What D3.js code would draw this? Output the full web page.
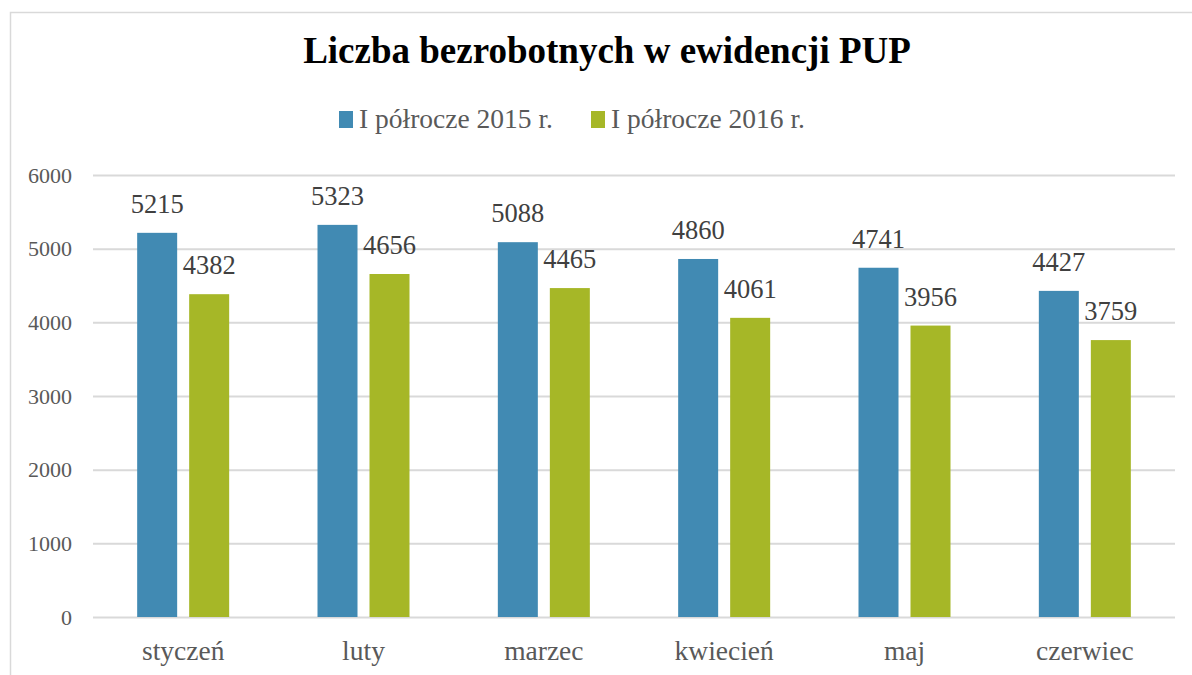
<!DOCTYPE html>
<head>
  <meta charset="utf-8">
  <script src="https://d3js.org/d3.v7.min.js"></script>
  <style>
    body { margin:0; background:#fff; }
    text { font-family: "Liberation Serif", "DejaVu Serif", serif; }
  </style>
</head>
<body>
<script>
  // data
  var months = ["styczeń", "luty", "marzec", "kwiecień", "maj", "czerwiec"];
  var seriesNames = ["I półrocze 2015 r.", "I półrocze 2016 r."];
  var values2015 = [5215, 5323, 5088, 4860, 4741, 4427];
  var values2016 = [4382, 4656, 4465, 4061, 3956, 3759];
  var colors = ["#418AB3", "#A6B727"];
  var yTicks = [0, 1000, 2000, 3000, 4000, 5000, 6000];

  var W = 1192, H = 675;
  var plot = {left: 93, right: 1175, top: 175, bottom: 617};

  var svg = d3.select("body").append("svg")
    .attr("width", W)
    .attr("height", H);

  // chart frame (right and bottom edges fall outside the picture)
  svg.append("rect")
    .attr("x", 10.5).attr("y", 12.5)
    .attr("width", 1220).attr("height", 700)
    .attr("fill", "#fff")
    .attr("stroke", "#d9d9d9")
    .attr("stroke-width", 1.5);

  var x0 = d3.scaleBand()
    .domain(months)
    .range([plot.left, plot.right])
    .padding(0);

  var groupW = 92;
  var x1 = d3.scaleBand()
    .domain([0, 1])
    .range([0, groupW])
    .paddingInner(0.2308);

  var y = d3.scaleLinear()
    .domain([0, 6000])
    .range([plot.bottom, plot.top]);

  // gridlines
  svg.append("g").selectAll("line").data(yTicks).enter()
    .append("line")
    .attr("x1", plot.left).attr("x2", plot.right)
    .attr("y1", function(d) { return y(d) + 0.5; })
    .attr("y2", function(d) { return y(d) + 0.5; })
    .attr("stroke", "#d9d9d9")
    .attr("stroke-width", 2);

  // y tick labels
  var yAxis = svg.append("g")
    .attr("transform", "translate(" + plot.left + ",0)")
    .call(d3.axisLeft(y).tickValues(yTicks).tickSize(0).tickPadding(21).tickFormat(d3.format("d")));
  yAxis.select(".domain").remove();
  yAxis.selectAll("text")
    .style("font-family", "'Liberation Serif', serif")
    .style("font-size", "22px")
    .attr("fill", "#595959");

  // x category labels
  var xAxis = svg.append("g")
    .attr("transform", "translate(0," + plot.bottom + ")")
    .call(d3.axisBottom(x0).tickSize(0).tickPadding(23));
  xAxis.select(".domain").remove();
  xAxis.selectAll("text")
    .style("font-family", "'Liberation Serif', serif")
    .style("font-size", "27.5px")
    .attr("fill", "#595959");

  var rows = months.map(function(m, i) {
    return {month: m, vals: [values2015[i], values2016[i]]};
  });

  var groups = svg.append("g").selectAll("g").data(rows).enter()
    .append("g")
    .attr("transform", function(d) {
      return "translate(" + (x0(d.month) + (x0.bandwidth() - groupW) / 2) + ",0)";
    });

  groups.selectAll("rect").data(function(d) { return d.vals; }).enter()
    .append("rect")
    .attr("x", function(d, i) { return x1(i); })
    .attr("width", x1.bandwidth())
    .attr("y", function(d) { return y(d); })
    .attr("height", function(d) { return plot.bottom - y(d); })
    .attr("fill", function(d, i) { return colors[i]; });

  groups.selectAll("text.val").data(function(d) { return d.vals; }).enter()
    .append("text")
    .attr("class", "val")
    .attr("x", function(d, i) { return x1(i) + x1.bandwidth() / 2; })
    .attr("y", function(d) { return y(d) - 20; })
    .attr("text-anchor", "middle")
    .style("font-size", "26.5px")
    .attr("fill", "#404040")
    .text(function(d) { return d; });

  // title
  svg.append("text")
    .attr("x", 607).attr("y", 63)
    .attr("text-anchor", "middle")
    .style("font-size", "37px")
    .style("font-weight", "bold")
    .attr("fill", "#000")
    .text("Liczba bezrobotnych w ewidencji PUP");

  // legend
  var legendX = [339, 591];
  var legend = svg.append("g").selectAll("g").data(seriesNames).enter()
    .append("g")
    .attr("transform", function(d, i) { return "translate(" + legendX[i] + ",111)"; });
  legend.append("rect")
    .attr("width", 14).attr("height", 17)
    .attr("fill", function(d, i) { return colors[i]; });
  legend.append("text")
    .attr("x", 20).attr("y", 17)
    .style("font-size", "27.5px")
    .attr("fill", "#595959")
    .text(function(d) { return d; });
</script>
</body>
